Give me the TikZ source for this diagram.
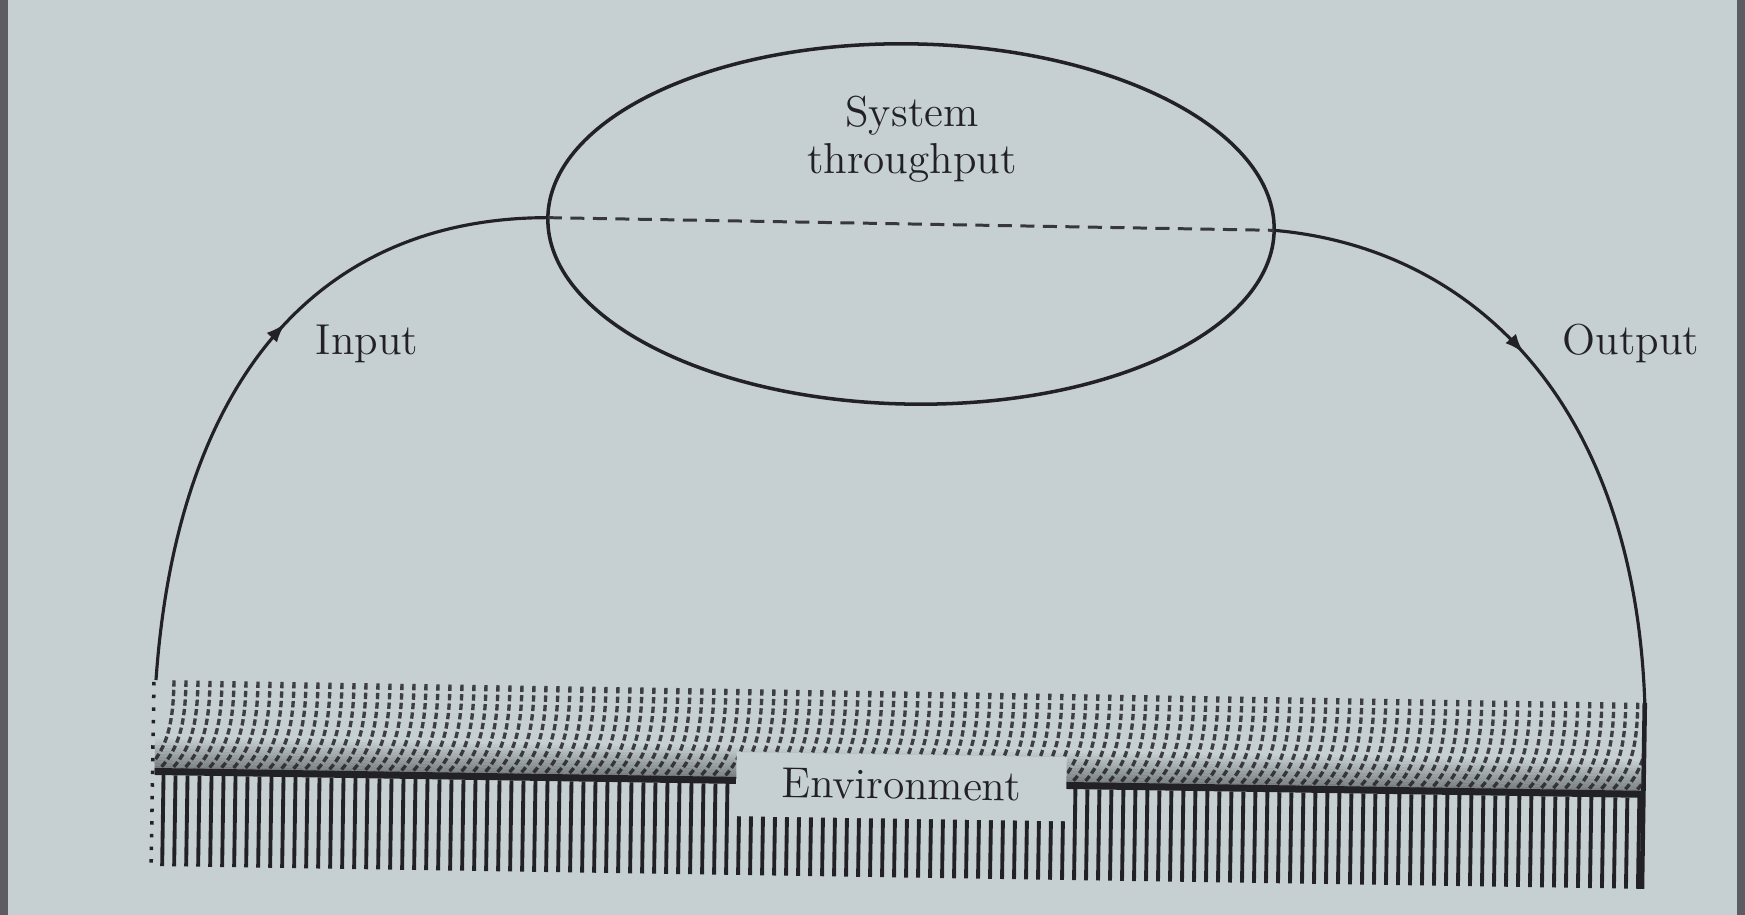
\documentclass[tikz,border=0pt]{standalone}
\usetikzlibrary{shapes.geometric, arrows.meta, decorations.markings}
\definecolor{paper}{RGB}{198,208,210}
\definecolor{ink}{RGB}{34,34,38}
\definecolor{hatchgray}{RGB}{60,62,66}
\definecolor{framegray}{RGB}{92,92,98}
\newcommand\labelfont{\fontsize{12.3}{14}\selectfont}

\begin{document}
\begin{tikzpicture}[x=0.01cm, y=0.01cm,
  flowline/.style={draw=ink, line width=0.9pt},
  lbl/.style={font=\labelfont, text=ink, inner sep=0pt},
  arrowat/.style={postaction={decorate}, decoration={markings,
      mark=at position #1 with {\arrow[ink]{Latex[length=5.5pt,width=4pt]}}}},
  sysellipse/.style={ellipse, draw=ink, line width=1pt, inner sep=0pt, outer sep=0pt,
      minimum width=7.26cm, minimum height=3.6cm},
  boundary/.style={draw=ink!90, line width=0.85pt, dash pattern=on 4pt off 2.4pt},
  upperhatch/.style={draw=hatchgray, line width=0.95pt, dash pattern=on 1.8pt off 0.9pt},
  lowerhatch/.style={draw=ink, line width=1.1pt},
  envbox/.style={fill=paper, inner sep=0pt, text width=3.3cm, align=center,
      text height=0.445cm, text depth=0.195cm, font=\labelfont, text=ink, transform shape}
]
% paper and the dark frame at the sides
\fill[paper] (0,0) rectangle (1745,915);
\useasboundingbox (0,0) rectangle (1745,915);
\fill[framegray] (0,0) rectangle (8,915);
\fill[framegray] (1737,0) rectangle (1745,915);

% the system
\node[sysellipse, rotate=-1] (sys) at (911,691) {};
\node[lbl, anchor=base] (systop) at (912,788) {System};
\node[lbl, anchor=base] (sysbot) at (912,741) {throughput};
\draw[boundary] (sys.west) -- (sys.east);

% the environment strip
\begin{scope}[shift={(156,235)}, rotate=-0.88]
  \coordinate (barTL) at (0,0);
  \coordinate (barTR) at (1489,0);
  \begin{scope}
    \clip (0,0) rectangle (1489,-92);
    \foreach \u in {18,30,...,1520}
      \draw[upperhatch] (\u,0) .. controls (\u,-45) and (\u-6,-70) .. (\u-28,-92);
    \foreach \k [evaluate=\k as \op using 0.045*\k] in {1,...,12}
      \fill[ink, opacity=\op] (0,-56-3*\k) rectangle (1489,-59-3*\k);
  \end{scope}
  \fill[ink] (0,-88) rectangle (1489,-95);
  \foreach \u in {9,21,...,1485}
    \draw[lowerhatch] (\u,-95) -- (\u,-186);
  \draw[ink, line width=1.3pt] (1489,0) -- (1489,-186);
  \draw[ink, line width=1pt, dash pattern=on 1pt off 2.6pt] (-2,-2) -- (-2,-188);
  \node[envbox, anchor=south west] (env) at (581,-128) {Environment};
\end{scope}

% input and output flows
\draw[flowline, arrowat=0.57] (barTL) to[out=86, in=180, out distance=3cm, in distance=2.3cm] (sys.west);
\draw[flowline, arrowat=0.43] (sys.east) to[out=-5, in=92, out distance=2cm, in distance=3cm] (barTR);
\node[lbl, anchor=base] (inlbl) at (367,560) {Input};
\node[lbl, anchor=base] (outlbl) at (1631,560) {Output};
\end{tikzpicture}
\end{document}
